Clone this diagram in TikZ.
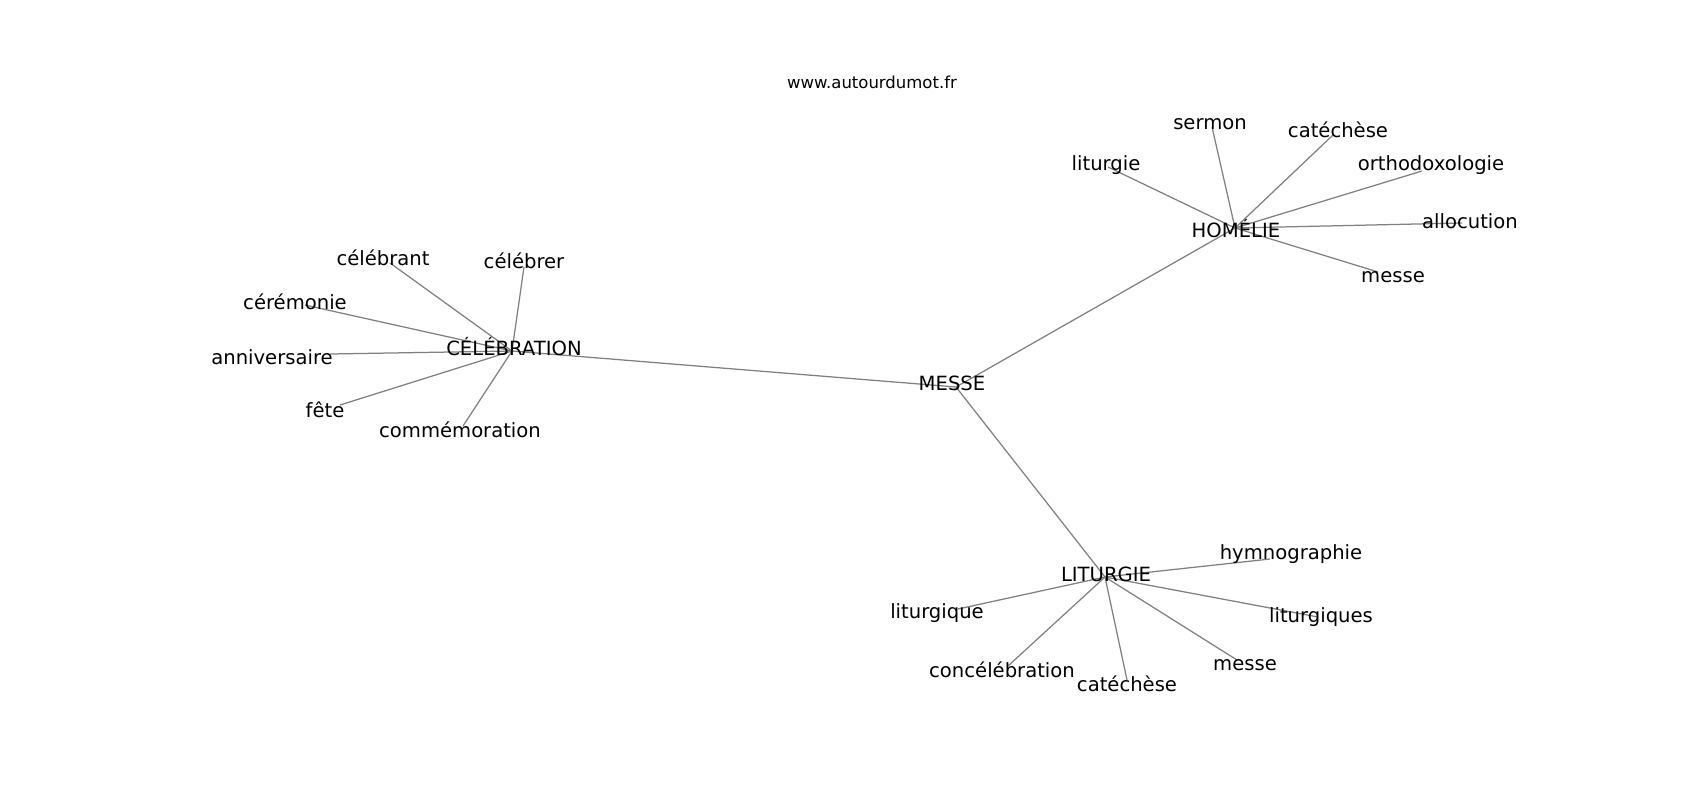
\documentclass[tikz,border=0pt]{standalone}
\usepackage{fontspec}
\setmainfont{DejaVu Sans}
\begin{document}
\begin{tikzpicture}[x=1pt,y=-1pt,
  lbl/.style={inner sep=0pt,yshift=-0.5pt,font=\fontsize{19.6}{19.6}\selectfont,text=black},
  edge/.style={draw=gray,line width=1.25pt}]
\useasboundingbox (0,0) rectangle (1700,800);
% hub positions
\coordinate (messe) at (956,387);
\coordinate (cele) at (512,351);
\coordinate (home) at (1235,228);
\coordinate (litu) at (1105,577);
% leaf positions
\coordinate (h1) at (1108,167);
\coordinate (h2) at (1212,127);
\coordinate (h3) at (1333,135);
\coordinate (h4) at (1422,171);
\coordinate (h5) at (1462,223);
\coordinate (h6) at (1378,272);
\coordinate (c1) at (390,263);
\coordinate (c2) at (524,267);
\coordinate (c3) at (305,305);
\coordinate (c4) at (330,354);
\coordinate (c5) at (340,405);
\coordinate (c6) at (463,426);
\coordinate (l1) at (1270,559);
\coordinate (l2) at (958,609);
\coordinate (l3) at (1318,617);
\coordinate (l4) at (1008,666);
\coordinate (l5) at (1127,680);
\coordinate (l6) at (1237,660);
% edges
\path[edge] (messe) -- (cele) (messe) -- (home) (messe) -- (litu);
\foreach \n in {h1,h2,h3,h4,h5,h6} \path[edge] (home) -- (\n);
\foreach \n in {c1,c2,c3,c4,c5,c6} \path[edge] (cele) -- (\n);
\foreach \n in {l1,l2,l3,l4,l5,l6} \path[edge] (litu) -- (\n);
% labels
\node[lbl] (tmesse) at (952,383) {MESSE};
\node[lbl] (tcele) at (514,346) {CÉLÉBRATION};
\node[lbl] (thome) at (1236,228) {HOMÉLIE};
\node[lbl] (tlitu) at (1106,574) {LITURGIE};
\node[lbl] (th1) at (1106,165) {liturgie};
\node[lbl] (th2) at (1210,124) {sermon};
\node[lbl] (th3) at (1338,129) {catéchèse};
\node[lbl] (th4) at (1431,165) {orthodoxologie};
\node[lbl] (th5) at (1470,221) {allocution};
\node[lbl] (th6) at (1393,277) {messe};
\node[lbl] (tc1) at (383,257) {célébrant};
\node[lbl] (tc2) at (524,260) {célébrer};
\node[lbl] (tc3) at (295,301) {cérémonie};
\node[lbl] (tc4) at (272,357) {anniversaire};
\node[lbl] (tc5) at (325,409) {fête};
\node[lbl] (tc6) at (460,429) {commémoration};
\node[lbl] (tl1) at (1291,554) {hymnographie};
\node[lbl] (tl2) at (937,613) {liturgique};
\node[lbl] (tl3) at (1321,617) {liturgiques};
\node[lbl] (tl4) at (1002,669) {concélébration};
\node[lbl] (tl5) at (1127,683) {catéchèse};
\node[lbl] (tl6) at (1245,665) {messe};
\node[inner sep=0pt,yshift=2.5pt,font=\fontsize{16.5}{16.5}\selectfont] (title) at (872,85) {www.autourdumot.fr};
\end{tikzpicture}
\end{document}
